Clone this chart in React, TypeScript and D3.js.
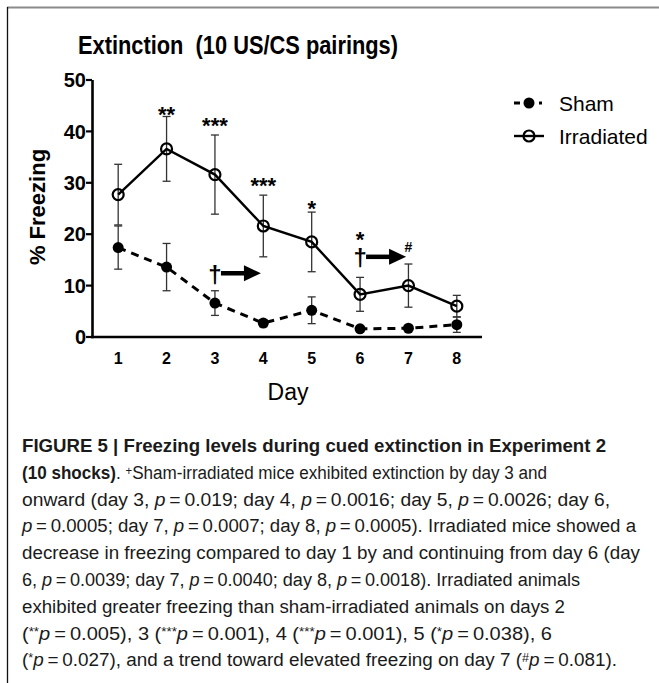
import React from 'react';
import * as d3 from 'd3';

const days = [1, 2, 3, 4, 5, 6, 7, 8];
const shamMean = [17.4, 13.6, 6.6, 2.7, 5.2, 1.6, 1.7, 2.4];
const shamSem = [4.2, 4.6, 2.4, 0.7, 2.6, 0.5, 0.3, 1.5];
const irrMean = [27.7, 36.6, 31.6, 21.6, 18.5, 8.3, 10.0, 6.0];
const irrSem = [5.9, 6.3, 7.7, 6.0, 5.8, 3.3, 4.2, 2.1];
const yTicks = [0, 10, 20, 30, 40, 50];
const sigDays = [2, 3, 4, 5, 6, 7];
const sigLabels = ['**', '***', '***', '*', '*', '#'];
const sigLevels = [44.5, 42.3, 30.7, 26.2, 20.1, 17.4];
const daggerDays = [3, 6];
const daggerLevels = [12.4, 15.6];
const seriesNames = ['Sham', 'Irradiated'];

type Seg = [string, string];
const captionLines: Seg[][] = [
  [['FIGURE 5 | Freezing levels during cued extinction in Experiment 2', 'b']],
  [['(10 shocks)', 'b'], ['. ', ''], ['+', 's'], ['Sham-irradiated mice exhibited extinction by day 3 and', '']],
  [['onward (day 3, ', ''], ['p', 'i'], ['\u2009=\u20090.019; day 4, ', ''], ['p', 'i'], ['\u2009=\u20090.0016; day 5, ', ''], ['p', 'i'], ['\u2009=\u20090.0026; day 6,', '']],
  [['p', 'i'], ['\u2009=\u20090.0005; day 7, ', ''], ['p', 'i'], ['\u2009=\u20090.0007; day 8, ', ''], ['p', 'i'], ['\u2009=\u20090.0005). Irradiated mice showed a', '']],
  [['decrease in freezing compared to day 1 by and continuing from day 6 (day', '']],
  [['6, ', ''], ['p', 'i'], ['\u2009=\u20090.0039; day 7, ', ''], ['p', 'i'], ['\u2009=\u20090.0040; day 8, ', ''], ['p', 'i'], ['\u2009=\u20090.0018). Irradiated animals', '']],
  [['exhibited greater freezing than sham-irradiated animals on days 2', '']],
  [['(', ''], ['**', 's'], ['p', 'i'], ['\u2009=\u20090.005), 3 (', ''], ['***', 's'], ['p', 'i'], ['\u2009=\u20090.001), 4 (', ''], ['***', 's'], ['p', 'i'], ['\u2009=\u20090.001), 5 (', ''], ['*', 's'], ['p', 'i'], ['\u2009=\u20090.038), 6', '']],
  [['(', ''], ['*', 's'], ['p', 'i'], ['\u2009=\u20090.027), and a trend toward elevated freezing on day 7 (', ''], ['#', 's'], ['p', 'i'], ['\u2009=\u20090.081).', '']],
];
const captionEnds = [606, 547, 610, 636, 640, 580, 565, 552, 617];

const FONT = "'Liberation Sans', Arial, Helvetica, sans-serif";
const CAPFONT = "'Liberation Sans Narrow', 'Liberation Sans', Arial, sans-serif";

export default function App() {
  const W = 659, H = 683;
  const x = d3.scaleLinear().domain([0.5, 8.5]).range([94, 481]);
  const y = d3.scaleLinear().domain([0, 50]).range([337, 80]);
  const lineGen = d3.line<number>().x((_, i) => x(days[i])).y((d) => y(d));
  const capHalf = 4;

  const errBars = (means: number[], sems: number[], key: string) =>
    means.map((m, i) => {
      const cx = x(days[i]);
      const y1 = y(m + sems[i]);
      const y0 = y(Math.max(0, m - sems[i]));
      return (
        <g key={key + i} stroke="#333" strokeWidth={1.3} fill="none">
          <line x1={cx} x2={cx} y1={y1} y2={y0} />
          <line x1={cx - capHalf} x2={cx + capHalf} y1={y1} y2={y1} />
          <line x1={cx - capHalf} x2={cx + capHalf} y1={y0} y2={y0} />
        </g>
      );
    });

  return (
    <svg width={W} height={H} style={{ position: 'absolute', left: 0, top: 0, background: '#fff' }}>
      <rect x={0} y={0} width={W} height={H} fill="#fff" />
      {/* frame */}
      <line x1={7} x2={W} y1={7.5} y2={7.5} stroke="#8a8a8a" strokeWidth={2} />
      <line x1={7.5} x2={7.5} y1={7} y2={H} stroke="#111" strokeWidth={1.3} />

      {/* title */}
      <text x={78} y={54} textLength={320} lengthAdjust="spacingAndGlyphs" fontFamily={FONT} fontWeight="bold" fontSize={25} style={{ whiteSpace: 'pre' }}>
        {'Extinction  (10 US/CS pairings)'}
      </text>

      {/* axes */}
      <line x1={x.range()[0] - 1.5} x2={x.range()[0] - 1.5} y1={y(50)} y2={y(0) + 1.2} stroke="#000" strokeWidth={2.6} />
      <line x1={x.range()[0] - 2.8} x2={x.range()[1] + 1} y1={y(0)} y2={y(0)} stroke="#000" strokeWidth={2.6} />
      {yTicks.map((t) => (
        <g key={'yt' + t}>
          <line x1={x.range()[0] - 8} x2={x.range()[0] - 2} y1={y(t)} y2={y(t)} stroke="#000" strokeWidth={2.2} />
          <text x={86} y={y(t)} dy="0.36em" textAnchor="end" fontFamily={FONT} fontWeight="bold" fontSize={20}>
            {t}
          </text>
        </g>
      ))}
      {days.map((d) => (
        <text key={'xt' + d} x={x(d)} y={364} textAnchor="middle" fontFamily={FONT} fontWeight="bold" fontSize={16}>
          {d}
        </text>
      ))}
      <text x={288} y={400} textAnchor="middle" fontFamily={FONT} fontSize={23}>Day</text>
      <text transform="translate(45,207) rotate(-90)" textAnchor="middle" fontFamily={FONT} fontWeight="bold" fontSize={22}>
        % Freezing
      </text>

      {/* error bars */}
      {errBars(irrMean, irrSem, 'ei')}
      {errBars(shamMean, shamSem, 'es')}

      {/* lines */}
      <path d={lineGen(irrMean) || ''} fill="none" stroke="#000" strokeWidth={2.4} />
      <path d={lineGen(shamMean) || ''} fill="none" stroke="#000" strokeWidth={3} strokeDasharray="8,6" />

      {/* markers */}
      {shamMean.map((m, i) => (
        <circle key={'sc' + i} cx={x(days[i])} cy={y(m)} r={5.5} fill="#000" />
      ))}
      {irrMean.map((m, i) => (
        <circle key={'ic' + i} cx={x(days[i])} cy={y(m)} r={5.5} fill="none" stroke="#000" strokeWidth={2.2} />
      ))}

      {/* significance annotations */}
      {sigDays.map((d, i) => (
        <text
          key={'sig' + i}
          x={x(d)}
          y={y(sigLevels[i])}
          dy={sigLabels[i] === '#' ? '0.35em' : '0.62em'}
          textAnchor="middle"
          fontFamily={FONT}
          fontWeight="bold"
          fontSize={sigLabels[i] === '#' ? 14 : 22}
        >
          {sigLabels[i]}
        </text>
      ))}
      {daggerDays.map((d, i) => {
        const cx = x(d);
        const cy = y(daggerLevels[i]);
        return (
          <g key={'dg' + i}>
            <text x={cx} y={cy} dy="0.4em" textAnchor="middle" fontFamily={FONT} fontWeight="bold" fontSize={24}>
              {'\u2020'}
            </text>
            <line x1={cx + 6} x2={cx + 32} y1={cy} y2={cy} stroke="#000" strokeWidth={4.5} />
            <path d={`M${cx + 29},${cy - 8} L${cx + 46},${cy} L${cx + 29},${cy + 8} Z`} fill="#000" />
          </g>
        );
      })}

      {/* legend */}
      <g>
        <line x1={514} x2={520} y1={103} y2={103} stroke="#000" strokeWidth={3} />
        <circle cx={529} cy={103} r={5.5} fill="#000" />
        <line x1={539} x2={542} y1={103} y2={103} stroke="#000" strokeWidth={3} />
        <text x={559} y={103} dy="0.36em" fontFamily={FONT} fontSize={21}>{seriesNames[0]}</text>
        <line x1={514} x2={544} y1={136} y2={136} stroke="#000" strokeWidth={2.4} />
        <circle cx={529} cy={136} r={5.5} fill="none" stroke="#000" strokeWidth={2.2} />
        <text x={559} y={136} dy="0.36em" fontFamily={FONT} fontSize={21}>{seriesNames[1]}</text>
      </g>

      {/* caption */}
      {captionLines.map((segs, i) => (
        <text
          key={'cap' + i}
          x={22}
          y={452 + i * 26.8}
          textLength={captionEnds[i] - 22}
          lengthAdjust="spacingAndGlyphs"
          fontFamily={CAPFONT}
          fontSize={18}
          fill="#1a1a1a"
          style={{ whiteSpace: 'pre' }}
        >
          {segs.map(([t, s], j) => {
            const prevSup = j > 0 && segs[j - 1][1] === 's';
            return (
              <tspan
                key={j}
                fontWeight={s === 'b' ? 'bold' : undefined}
                fontStyle={s === 'i' ? 'italic' : undefined}
                fontSize={s === 's' ? 12 : undefined}
                dy={s === 's' ? -4 : prevSup ? 4 : undefined}
              >
                {t}
              </tspan>
            );
          })}
        </text>
      ))}
    </svg>
  );
}
